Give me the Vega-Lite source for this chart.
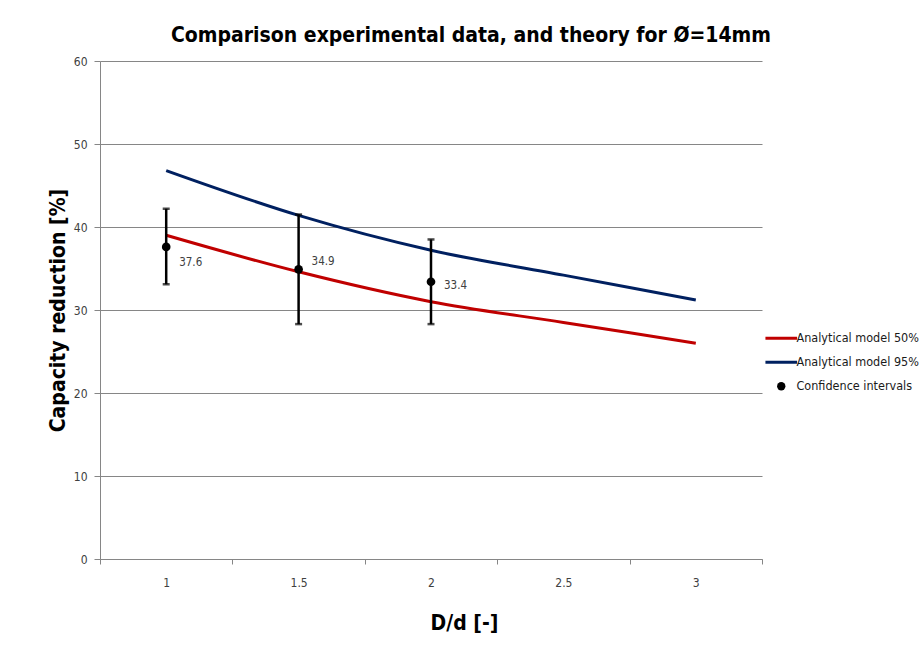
{
  "$schema": "https://vega.github.io/schema/vega-lite/v6.json",
  "autosize": "none",
  "width": 662,
  "height": 498,
  "padding": {"left": 100, "top": 61, "right": 160, "bottom": 88},
  "background": "white",
  "title": {
    "text": "Comparison experimental data, and theory for Ø=14mm",
    "font": "DejaVu Sans Condensed",
    "fontSize": 21,
    "fontWeight": "bold",
    "color": "black",
    "anchor": "middle",
    "dx": 40,
    "offset": 9
  },
  "datasets": {
    "lines": [
      {"x": 1, "y": 39.0, "series": "Analytical model 50%"},
      {"x": 1.5, "y": 34.6, "series": "Analytical model 50%"},
      {"x": 2, "y": 31.0, "series": "Analytical model 50%"},
      {"x": 2.5, "y": 28.5, "series": "Analytical model 50%"},
      {"x": 3, "y": 26.0, "series": "Analytical model 50%"},
      {"x": 1, "y": 46.8, "series": "Analytical model 95%"},
      {"x": 1.5, "y": 41.4, "series": "Analytical model 95%"},
      {"x": 2, "y": 37.2, "series": "Analytical model 95%"},
      {"x": 2.5, "y": 34.2, "series": "Analytical model 95%"},
      {"x": 3, "y": 31.2, "series": "Analytical model 95%"}
    ],
    "ci": [
      {"x": 1, "y": 37.6, "lo": 33.1, "hi": 42.2, "series": "Confidence intervals"},
      {"x": 1.5, "y": 34.9, "lo": 28.3, "hi": 41.5, "series": "Confidence intervals"},
      {"x": 2, "y": 33.4, "lo": 28.3, "hi": 38.5, "series": "Confidence intervals"}
    ]
  },
  "encoding": {
    "x": {
      "field": "x",
      "type": "quantitative",
      "scale": {"domain": [0.75, 3.25], "nice": false, "zero": false},
      "axis": {
        "title": "D/d [-]",
        "values": [0.75, 1.25, 1.75, 2.25, 2.75, 3.25],
        "labelExpr": "datum.value > 3 ? '' : '' + (datum.value + 0.25)",
        "labelOffset": 66.2,
        "labelFont": "DejaVu Sans Condensed",
        "labelFontSize": 12,
        "labelColor": "#404040",
        "labelPadding": 13,
        "labelFlush": false,
        "labelOverlap": false,
        "tickSize": 5,
        "tickColor": "#868686",
        "domainColor": "#868686",
        "grid": false,
        "titleFont": "DejaVu Sans Condensed",
        "titleFontSize": 21,
        "titleFontWeight": "bold",
        "titleColor": "black",
        "titleX": 364,
        "titleY": 70,
        "titleAlign": "center",
        "titleBaseline": "alphabetic"
      }
    },
    "y": {
      "field": "y",
      "type": "quantitative",
      "scale": {"domain": [0, 60], "nice": false},
      "axis": {
        "title": "Capacity reduction [%]",
        "values": [0, 10, 20, 30, 40, 50, 60],
        "labelFont": "DejaVu Sans Condensed",
        "labelFontSize": 12,
        "labelColor": "#404040",
        "labelPadding": 7,
        "tickSize": 6,
        "tickColor": "#868686",
        "domainColor": "#868686",
        "grid": true,
        "gridColor": "#868686",
        "gridWidth": 1,
        "titleFont": "DejaVu Sans Condensed",
        "titleFontSize": 21,
        "titleFontWeight": "bold",
        "titleColor": "black",
        "titleAngle": -90,
        "titleX": -36,
        "titleY": 249,
        "titleAlign": "center",
        "titleBaseline": "alphabetic"
      }
    }
  },
  "layer": [
    {
      "data": {"name": "lines"},
      "mark": {"type": "line", "strokeWidth": 3, "interpolate": "monotone"},
      "encoding": {
        "color": {
          "field": "series",
          "type": "nominal",
          "scale": {"domain": ["Analytical model 50%", "Analytical model 95%"], "range": ["#C00000", "#002060"]},
          "legend": null
        }
      }
    },
    {
      "data": {"name": "ci"},
      "mark": {"type": "rule", "strokeWidth": 2.5, "color": "black"},
      "encoding": {"y": {"field": "lo", "type": "quantitative"}, "y2": {"field": "hi"}}
    },
    {
      "data": {"name": "ci"},
      "mark": {"type": "tick", "orient": "horizontal", "size": 7, "thickness": 2.5, "color": "black"},
      "encoding": {"y": {"field": "lo", "type": "quantitative"}}
    },
    {
      "data": {"name": "ci"},
      "mark": {"type": "tick", "orient": "horizontal", "size": 7, "thickness": 2.5, "color": "black"},
      "encoding": {"y": {"field": "hi", "type": "quantitative"}}
    },
    {
      "data": {"name": "ci"},
      "mark": {"type": "point", "filled": true, "opacity": 1, "strokeWidth": 0},
      "encoding": {
        "fill": {
          "field": "series",
          "type": "nominal",
          "scale": {"domain": ["Analytical model 50%", "Analytical model 95%", "Confidence intervals"], "range": ["#C00000", "#002060", "black"]},
          "legend": {
            "title": null,
            "orient": "none",
            "legendX": 675,
            "legendY": 271,
            "labelFont": "DejaVu Sans Condensed",
            "labelFontSize": 12.5,
            "labelColor": "#1a1a1a",
            "labelOffset": 9,
            "rowPadding": 11,
            "symbolSize": 900,
            "symbolStrokeWidth": 3,
            "symbolOpacity": 1,
            "encode": {
              "symbols": {
                "update": {
                  "shape": {"signal": "datum.value === 'Confidence intervals' ? 'circle' : 'stroke'"},
                  "size": {"signal": "datum.value === 'Confidence intervals' ? 70 : 1000"},
                  "stroke": {"signal": "datum.value === 'Analytical model 50%' ? '#C00000' : datum.value === 'Analytical model 95%' ? '#002060' : 'black'"},
                  "strokeWidth": {"signal": "datum.value === 'Confidence intervals' ? 0 : 3"}
                }
              }
            }
          }
        },
        "size": {"value": 75},
        "shape": {"value": "circle"}
      }
    },
    {
      "data": {"name": "ci"},
      "transform": [{"filter": "datum.x === 1"}],
      "mark": {"type": "text", "align": "left", "baseline": "middle", "dx": 13, "dy": 16, "font": "DejaVu Sans Condensed", "fontSize": 11.5, "color": "#404040"},
      "encoding": {"text": {"field": "y", "type": "quantitative", "format": ".1f"}}
    },
    {
      "data": {"name": "ci"},
      "transform": [{"filter": "datum.x === 1.5"}],
      "mark": {"type": "text", "align": "left", "baseline": "middle", "dx": 13, "dy": -7, "font": "DejaVu Sans Condensed", "fontSize": 11.5, "color": "#404040"},
      "encoding": {"text": {"field": "y", "type": "quantitative", "format": ".1f"}}
    },
    {
      "data": {"name": "ci"},
      "transform": [{"filter": "datum.x === 2"}],
      "mark": {"type": "text", "align": "left", "baseline": "middle", "dx": 13, "dy": 4, "font": "DejaVu Sans Condensed", "fontSize": 11.5, "color": "#404040"},
      "encoding": {"text": {"field": "y", "type": "quantitative", "format": ".1f"}}
    }
  ],
  "config": {
    "view": {"stroke": null}
  }
}
